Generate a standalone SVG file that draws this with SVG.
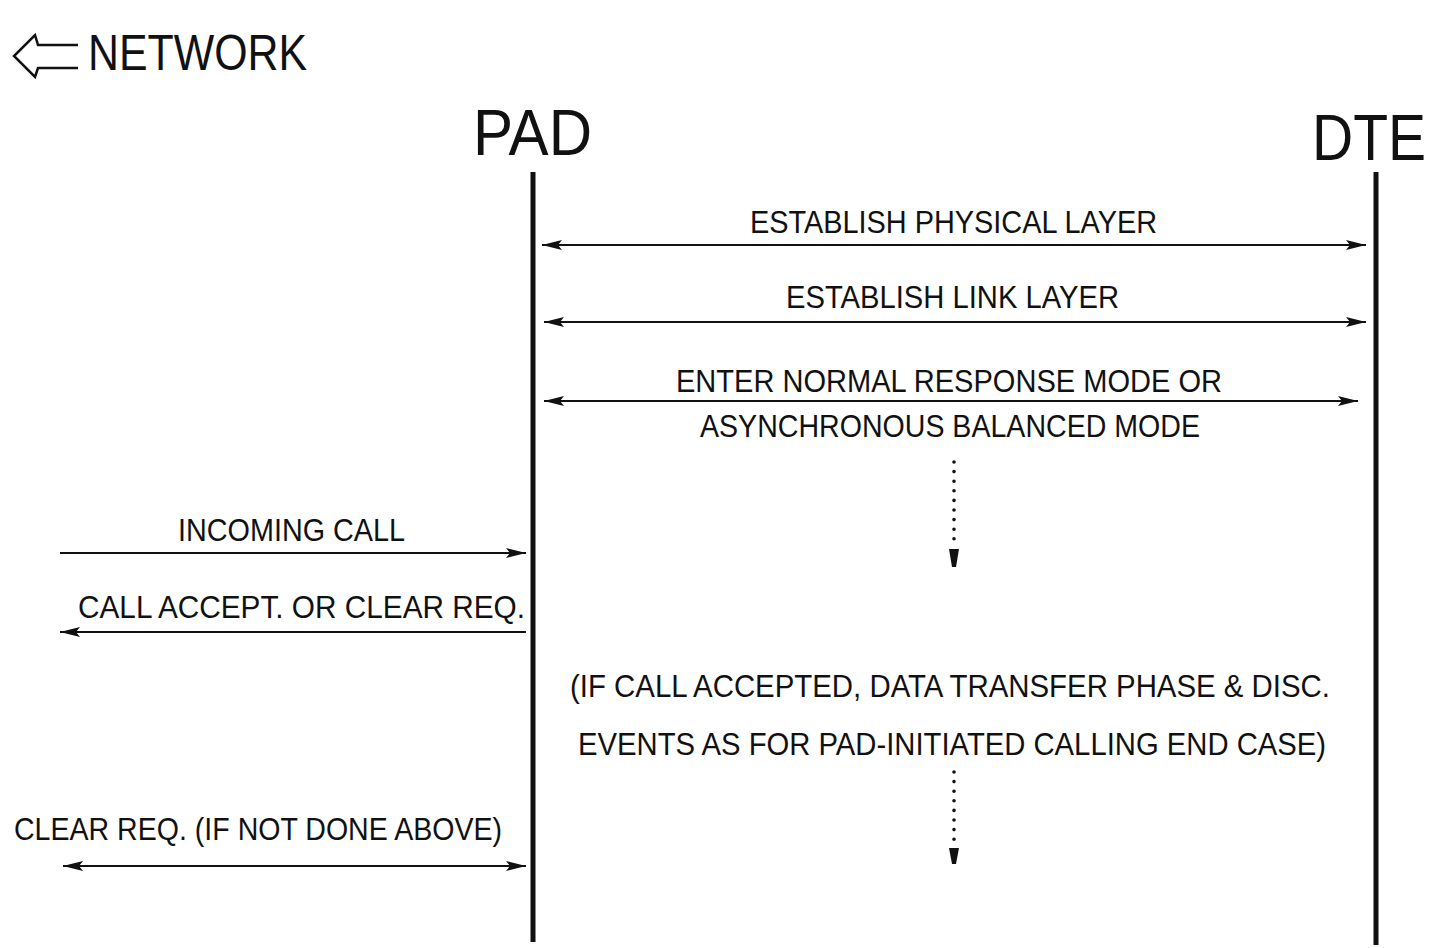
<svg xmlns="http://www.w3.org/2000/svg" width="1436" height="948" viewBox="0 0 1436 948">
<style>
text{font-family:"Liberation Sans",Arial,sans-serif;fill:#111}
.lbl{font-size:32px}
.big{font-size:64px}
.life{stroke:#111;stroke-width:5}
.msg{stroke:#111;stroke-width:2;fill:none}
.dots{stroke:#111;stroke-width:3.6;stroke-linecap:round;stroke-dasharray:0 9.6;fill:none}
</style>
<defs>
<marker id="ah" markerUnits="userSpaceOnUse" markerWidth="22" markerHeight="14" refX="20" refY="7" orient="auto-start-reverse">
<path d="M0,2 L20,7 L0,12 L4,7 Z" fill="#111"/>
</marker>
</defs>
<g id="network">
<path d="M78,45 L38,45 L35,35 L14,56 L35,77 L38,68 L78,68" fill="none" stroke="#111" stroke-width="2.5" stroke-linejoin="miter"/>
<text x="88" y="70" font-size="50" textLength="219" lengthAdjust="spacingAndGlyphs">NETWORK</text>
</g>
<g id="pad">
<text class="big" x="473" y="155" textLength="119" lengthAdjust="spacingAndGlyphs">PAD</text>
<line class="life" x1="533" y1="172" x2="533" y2="942"/>
</g>
<g id="dte">
<text class="big" x="1312" y="160" textLength="114" lengthAdjust="spacingAndGlyphs">DTE</text>
<line class="life" x1="1376" y1="172" x2="1376" y2="945"/>
</g>
<g id="connectors">
<line class="msg" x1="542" y1="245" x2="1366" y2="245" marker-start="url(#ah)" marker-end="url(#ah)"/>
<line class="msg" x1="544" y1="322" x2="1366" y2="322" marker-start="url(#ah)" marker-end="url(#ah)"/>
<line class="msg" x1="544" y1="401" x2="1358" y2="401" marker-start="url(#ah)" marker-end="url(#ah)"/>
<line class="msg" x1="60" y1="553" x2="526" y2="553" marker-end="url(#ah)"/>
<line class="msg" x1="526" y1="632" x2="60" y2="632" marker-end="url(#ah)"/>
<line class="msg" x1="63" y1="866" x2="526" y2="866" marker-start="url(#ah)" marker-end="url(#ah)"/>
<line class="dots" x1="954" y1="462" x2="954" y2="540"/>
<path d="M949,549 L959,549 L956,567 L952,567 Z" fill="#111"/>
<line class="dots" x1="954" y1="772" x2="954" y2="840"/>
<path d="M949,848 L959,848 L956,864 L952,864 Z" fill="#111"/>
</g>
<g id="labels">
<text class="lbl" x="750" y="233" textLength="407" lengthAdjust="spacingAndGlyphs">ESTABLISH PHYSICAL LAYER</text>
<text class="lbl" x="786" y="308" textLength="333" lengthAdjust="spacingAndGlyphs">ESTABLISH LINK LAYER</text>
<text class="lbl" x="676" y="392" textLength="546" lengthAdjust="spacingAndGlyphs">ENTER NORMAL RESPONSE MODE OR</text>
<text class="lbl" x="700" y="437" textLength="500" lengthAdjust="spacingAndGlyphs">ASYNCHRONOUS BALANCED MODE</text>
<text class="lbl" x="178" y="541" textLength="227" lengthAdjust="spacingAndGlyphs">INCOMING CALL</text>
<text class="lbl" x="78" y="618" textLength="447" lengthAdjust="spacingAndGlyphs">CALL ACCEPT. OR CLEAR REQ.</text>
<text class="lbl" x="570" y="697" textLength="760" lengthAdjust="spacingAndGlyphs">(IF CALL ACCEPTED, DATA TRANSFER PHASE &amp; DISC.</text>
<text class="lbl" x="578" y="755" textLength="748" lengthAdjust="spacingAndGlyphs">EVENTS AS FOR PAD-INITIATED CALLING END CASE)</text>
<text class="lbl" x="14" y="840" textLength="488" lengthAdjust="spacingAndGlyphs">CLEAR REQ. (IF NOT DONE ABOVE)</text>
</g>
</svg>
